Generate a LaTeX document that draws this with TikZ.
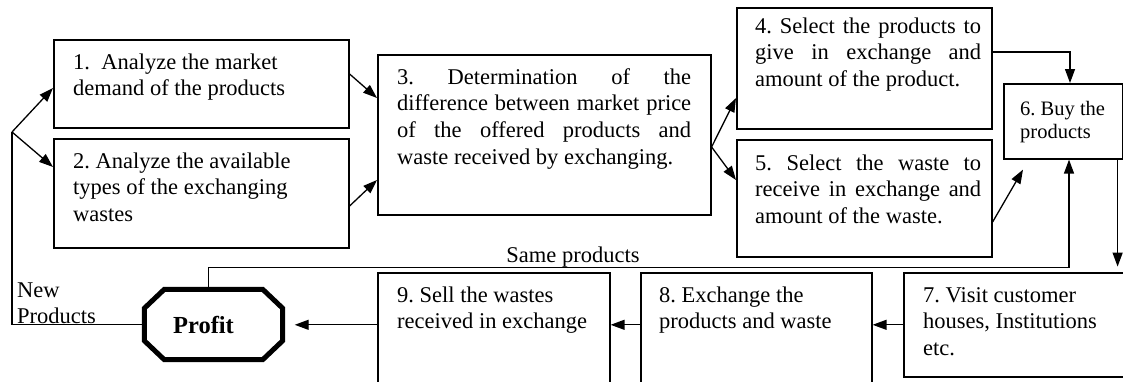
\documentclass[tikz,border=0pt]{standalone}
\usepackage{fontspec}
\setmainfont{Liberation Serif}
\usetikzlibrary{arrows.meta,calc}
\hyphenpenalty=10000
\exhyphenpenalty=10000
\tolerance=10000
\hbadness=10000
\frenchspacing
\begin{document}
\begin{tikzpicture}[x=1pt,y=-1pt,
  box/.style={draw, line width=1.6pt, rectangle, anchor=north west, inner sep=0pt},
  txt/.style={inner sep=0pt, anchor=north west, align=left, font=\fontsize{22.5}{26.7}\selectfont},
  txtj/.style={inner sep=0pt, anchor=north west, align=justify, font=\fontsize{22.5}{26.7}\selectfont},
  conn/.style={line width=1.3pt},
  arr/.style={conn, -{Triangle[length=14pt,width=10pt]}},
  profitline/.style={line width=5pt, line join=miter}
]
\useasboundingbox (0,0) rectangle (1123,381);
% boxes
\node[box, minimum width=295pt, minimum height=88pt] (b1) at (53,39) {};
\node[box, minimum width=295pt, minimum height=109pt] (b2) at (53,138) {};
\node[box, minimum width=333pt, minimum height=160pt] (b3) at (377,54) {};
\node[box, minimum width=255pt, minimum height=121pt] (b4) at (736,7) {};
\node[box, minimum width=255pt, minimum height=117pt] (b5) at (736,139) {};
\node[box, minimum width=119pt, minimum height=75pt] (b6) at (1003,83) {};
\node[box, minimum width=235pt, minimum height=104pt] (b7) at (903,272) {};
\node[box, minimum width=231pt, minimum height=125pt] (b8) at (640,272) {};
\node[box, minimum width=232pt, minimum height=125pt] (b9) at (377,272) {};
% texts
\node[txt] (t1) at (73,50.3) {\strut 1.\ \ Analyze the market\\demand of the products};
\node[txt] (t2) at (73,149.3) {\strut 2. Analyze the available\\types of the exchanging\\wastes};
\node[txtj, text width=294pt] (t3) at (397,65.3) {\strut 3. Determination of the\linebreak difference between market price\linebreak of the offered products and\linebreak waste received by exchanging.};
\node[txtj, text width=226pt] (t4) at (755,14.3) {\strut 4. Select the products to\linebreak give in exchange and\linebreak amount of the product.};
\node[txtj, text width=226pt] (t5) at (755,151.3) {\strut 5. Select the waste to\linebreak receive in exchange and\linebreak amount of the waste.};
\node[txt, font=\fontsize{20.5}{23}\selectfont] (t6) at (1020,98.9) {\strut 6. Buy the\\products};
\node[txt] (t7) at (923,283.3) {\strut 7. Visit customer\\houses, Institutions\\etc.};
\node[txt] (t8) at (659,283.3) {\strut 8. Exchange the\\products and waste};
\node[txt] (t9) at (397,283.3) {\strut 9. Sell the wastes\\received in exchange};
% profit
\node[minimum width=138pt, minimum height=70pt, inner sep=0pt, font=\fontsize{24.5}{29}\selectfont\bfseries] (profit) at (213.5,324.5) {Profit\hspace*{20pt}};
\draw[profitline] ($(profit.north west)+(20,0)$) -- ($(profit.north east)+(-20,0)$) -- ($(profit.north east)+(0,19)$) -- ($(profit.south east)+(0,-19)$) -- ($(profit.south east)+(-20,0)$) -- ($(profit.south west)+(20,0)$) -- ($(profit.south west)+(0,-19)$) -- ($(profit.north west)+(0,19)$) -- cycle;
% labels
\node[anchor=base, inner sep=0pt, font=\fontsize{22.5}{26.7}\selectfont] (same) at (573,262) {Same products};
\node[txt] (newp) at (17,278.3) {\strut New\\Products};
% connectors
\coordinate (j1) at (12,132);
\draw[conn] (profit.west) -| (j1);
\draw[arr] (j1) -- ($(b1.north west)+(0,49)$);
\draw[arr] (j1) -- ($(b2.north west)+(0,29)$);
\draw[arr] ($(b1.north east)+(0,35)$) -- ($(b3.north west)+(0,44)$);
\draw[arr] ($(b2.north east)+(0,68)$) -- ($(b3.north west)+(0,126)$);
\coordinate (j3) at ($(b3.north east)+(0,93)$);
\draw[arr] (j3) -- ($(b4.north west)+(0,91)$);
\draw[arr] (j3) -- ($(b5.north west)+(0,41)$);
\draw[arr] ($(b4.north east)+(0,45)$) -| ($(b6.north west)+(67,0)$);
\coordinate (c56) at ($(b6.south west)+(20,10)$);
\draw[arr] ($(b5.north east)+(0,83)$) -- (c56);
\coordinate (c67) at ($(b6.south east)+(-6,107)$);
\draw[arr] ($(b6.south east)+(-6,0)$) -- (c67);
\draw[arr] ($(profit.north)+(-5,0)$) |- ($(b6.south west)+(66,108)$) -- ($(b6.south west)+(66,0)$);
\draw[arr] (b7.west) -- (b7.west -| b8.east);
\draw[arr] (b7.west -| b8.west) -- (b7.west -| b9.east);
\draw[arr] (b7.west -| b9.west) -- ($(b7.west -| profit.east)+(12,0)$);
\end{tikzpicture}
\end{document}
